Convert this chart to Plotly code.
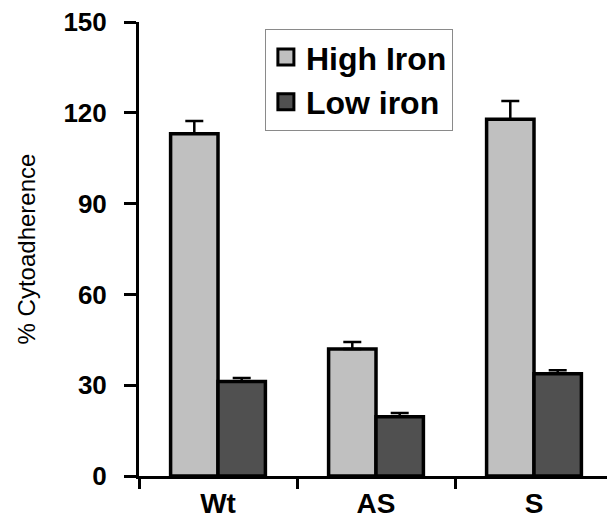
import plotly.graph_objects as go

categories = ["Wt", "AS", "S"]
high_iron = [113.1, 42.0, 117.9]
high_iron_err = [4.2, 2.3, 6.0]
low_iron = [31.2, 19.6, 33.8]
low_iron_err = [1.2, 1.2, 1.1]
y_ticks = [0, 30, 60, 90, 120, 150]

FONT = "Arial, Liberation Sans, sans-serif"
HIGH_C = "#c0c0c0"
LOW_C = "#505050"

fig = go.Figure()
fig.add_trace(go.Bar(
    x=categories, y=high_iron, name="High Iron", showlegend=False,
    marker=dict(color=HIGH_C, line=dict(color="black", width=3.5)),
    error_y=dict(type="data", array=high_iron_err, arrayminus=[0, 0, 0],
                 symmetric=False, color="black", thickness=2.5, width=9),
))
fig.add_trace(go.Bar(
    x=categories, y=low_iron, name="Low iron", showlegend=False,
    marker=dict(color=LOW_C, line=dict(color="black", width=3.5)),
    error_y=dict(type="data", array=low_iron_err, arrayminus=[0, 0, 0],
                 symmetric=False, color="black", thickness=2.5, width=9),
))
# legend entries
for nm, col in [("High Iron", HIGH_C), ("Low iron", LOW_C)]:
    fig.add_trace(go.Scatter(
        x=[None], y=[None], mode="markers", name=nm,
        marker=dict(symbol="square", size=16, color=col,
                    line=dict(color="black", width=3)),
    ))

fig.update_layout(
    width=607, height=521,
    margin=dict(l=139, r=0, t=22, b=45, autoexpand=False),
    paper_bgcolor="white", plot_bgcolor="white",
    barmode="group", bargap=0.4, bargroupgap=0,
    font=dict(family=FONT, color="black"),
    legend=dict(
        x=0.269, y=0.985, xanchor="left", yanchor="top",
        bordercolor="#8a8a8a", borderwidth=1, bgcolor="white",
        font=dict(size=32, family=FONT, weight="bold", color="black"),
        itemwidth=30, tracegroupgap=0,
    ),
)
fig.update_xaxes(
    range=[-0.5, 2.462], showline=True, linecolor="black", linewidth=3,
    ticks="outside", tickson="boundaries", ticklen=10, tickwidth=3,
    tickcolor="black", showgrid=False, zeroline=False, automargin=False,
    ticklabelstandoff=0,
    tickfont=dict(size=28, family=FONT, weight="bold", color="black"),
)
fig.update_yaxes(
    range=[0, 150], tickvals=y_ticks, showline=True, linecolor="black",
    linewidth=3, ticks="outside", ticklen=12, tickwidth=3, tickcolor="black",
    showgrid=False, zeroline=False, automargin=False, ticklabelstandoff=12,
    tickfont=dict(size=26, family=FONT, weight="bold", color="black"),
    title=dict(text="% Cytoadherence", standoff=22,
               font=dict(size=24, family=FONT, color="black")),
)

fig.write_html("out.html", config={"displayModeBar": False},
               post_script="document.body.style.margin='0';")
